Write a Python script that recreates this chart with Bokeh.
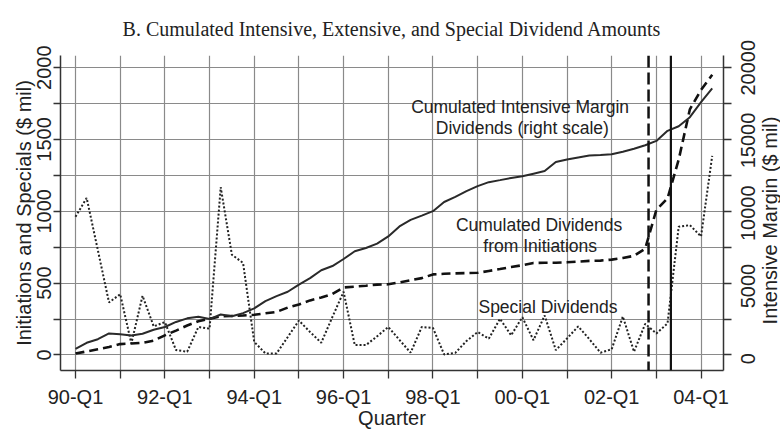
import math
from bokeh.plotting import figure
from bokeh.layouts import row
from bokeh.models import Range1d, LinearAxis, FixedTicker, Span, Label
from bokeh.core.properties import value
from bokeh.embed import file_html
from bokeh.resources import INLINE

# ---------------- data ----------------
quarter_index = list(range(58))  # 0 = 90-Q1 ... 57 = 04-Q2

special_dividends = [962, 1093, 730, 366, 423, 80, 412, 199, 229, 34,
                     23, 195, 183, 1168, 698, 641, 91, 11, 11, 125,
                     240, 160, 85, 265, 440, 69, 69, 130, 195, 105,
                     16, 195, 188, 4, 15, 97, 160, 114, 252, 137,
                     263, 103, 275, 34, 115, 199, 110, 16, 40, 268,
                     23, 217, 150, 220, 893, 904, 825, 1386]

cum_initiations = [10, 25, 40, 55, 76, 80, 85, 100, 137, 170,
                   205, 235, 252, 270, 272, 275, 280, 290, 300, 330,
                   352, 380, 400, 425, 470, 476, 482, 490, 492, 505,
                   520, 535, 561, 565, 568, 570, 572, 585, 598, 612,
                   625, 641, 642, 642, 645, 650, 655, 657, 664, 675,
                   690, 740, 1010, 1090, 1360, 1710, 1845, 1950]

cum_intensive = [420, 850, 1100, 1500, 1450, 1350, 1480, 1760, 1950, 2300,
                 2550, 2660, 2500, 2820, 2700, 2910, 3250, 3750, 4100, 4400,
                 4900, 5350, 5900, 6190, 6680, 7220, 7450, 7750, 8250, 8950,
                 9400, 9700, 10010, 10650, 11000, 11400, 11750, 12030, 12170, 12320,
                 12440, 12620, 12800, 13430, 13600, 13750, 13880, 13920, 13970, 14150,
                 14350, 14600, 14900, 15600, 15920, 16550, 17600, 18560]

x_tick_positions = [0, 8, 16, 24, 32, 40, 48, 56]
x_tick_labels = ["90-Q1", "92-Q1", "94-Q1", "96-Q1", "98-Q1", "00-Q1", "02-Q1", "04-Q1"]
x_minor_positions = [4, 12, 20, 28, 36, 44, 52]

left_ticks = [0, 500, 1000, 1500, 2000]
left_minor = [250, 750, 1250, 1750]
right_ticks = [0, 5000, 10000, 15000, 20000]
right_minor = [2500, 7500, 12500, 17500]

event_dashed = 51.3   # vertical dashed line (quarter index)
event_solid = 53.3    # vertical solid line (quarter index)

annotations = [
    ("Cumulated Intensive Margin", 39.8, 1728),
    ("Dividends (right scale)", 40.0, 1583),
    ("Cumulated Dividends", 41.5, 902),
    ("from Initiations", 41.6, 758),
    ("Special Dividends", 42.3, 332),
]

TITLE = "B. Cumulated Intensive, Extensive, and Special Dividend Amounts"
LEFT_TITLE = "Initiations and Specials ($ mil)"
RIGHT_TITLE = "Intensive Margin ($ mil)"
X_TITLE = "Quarter"
SANS = "Liberation Sans"
TXT = "#222222"
AXC = "#333333"
GRID = "#8a8a8a"


def style_axis(ax, tick_out):
    ax.major_tick_out = tick_out
    ax.major_tick_in = 0
    ax.minor_tick_out = tick_out
    ax.minor_tick_in = 0
    ax.axis_line_width = 1.5
    ax.axis_line_color = AXC
    ax.major_tick_line_color = AXC
    ax.major_tick_line_width = 1.3
    ax.minor_tick_line_color = AXC
    ax.minor_tick_line_width = 1.3


# ---------------- main figure ----------------
p = figure(width=735, height=431,
           x_range=Range1d(-1.343, 58.01), y_range=Range1d(-107.9, 2084.5),
           output_backend="svg", toolbar_location=None,
           min_border_left=60, min_border_right=12,
           min_border_top=55, min_border_bottom=57)
p.extra_y_ranges = {"right": Range1d(-1079, 20845)}
p.outline_line_color = None
p.background_fill_color = "white"
p.border_fill_color = "white"
try:
    p.frame_align = False
except Exception:
    pass

p.title.text = TITLE
p.title.text_font = "Liberation Serif"
p.title.text_font_size = "20px"
p.title.text_font_style = "normal"
p.title.text_color = TXT
p.title.align = "center"
p.title.vertical_align = "top"
p.title.standoff = 28

# x axis
x_ticker = FixedTicker(ticks=x_tick_positions, minor_ticks=x_minor_positions)
xa = p.xaxis[0]
xa.ticker = x_ticker
xa.major_label_overrides = {t: l for t, l in zip(x_tick_positions, x_tick_labels)}
xa.major_label_text_font = SANS
xa.major_label_text_font_size = "20px"
xa.major_label_text_color = TXT
style_axis(xa, 8)
xa.major_label_standoff = 7
xa.axis_label = X_TITLE
xa.axis_label_text_font = SANS
xa.axis_label_text_font_size = "20px"
xa.axis_label_text_font_style = "normal"
xa.axis_label_text_color = TXT
xa.axis_label_standoff = -4

# left axis
l_ticker = FixedTicker(ticks=left_ticks, minor_ticks=left_minor)
ya = p.yaxis[0]
ya.ticker = l_ticker
ya.major_label_orientation = "vertical"
ya.major_label_text_font = SANS
ya.major_label_text_font_size = "20px"
ya.major_label_text_color = TXT
style_axis(ya, 7)
ya.major_label_standoff = 2
ya.axis_label = LEFT_TITLE
ya.axis_label_text_font = SANS
ya.axis_label_text_font_size = "20px"
ya.axis_label_text_font_style = "normal"
ya.axis_label_text_color = TXT
ya.axis_label_standoff = 0

# right axis (line and ticks here; its labels are drawn in the side strip)
ra = LinearAxis(y_range_name="right",
                ticker=FixedTicker(ticks=right_ticks, minor_ticks=right_minor))
ra.major_label_text_font_size = "0px"
ra.major_label_text_color = None
ra.major_label_standoff = 0
style_axis(ra, 8)
p.add_layout(ra, "right")

# grid
p.xgrid.ticker = x_ticker
p.ygrid.ticker = l_ticker
for g in (p.xgrid, p.ygrid):
    g.grid_line_color = GRID
    g.grid_line_width = 1.2
    g.minor_grid_line_color = GRID
    g.minor_grid_line_width = 1.2

# series
p.line(quarter_index, special_dividends, line_color="#222222", line_width=2, line_dash="2 2")
p.line(quarter_index, cum_initiations, line_color="#111111", line_width=2.6, line_dash="9 5")
p.line(quarter_index, cum_intensive, y_range_name="right", line_color="#2a2a2a", line_width=2)

# event lines
p.add_layout(Span(location=event_dashed, dimension="height", line_color="#111111",
                  line_width=2.5, line_dash="12 5"))
p.add_layout(Span(location=event_solid, dimension="height", line_color="#111111",
                  line_width=2.2))

# annotations
for txt, xq, yv in annotations:
    p.add_layout(Label(x=xq, y=yv, text=txt, text_font=SANS, text_font_size="17.5px",
                       text_color=TXT, text_align="center", text_baseline="middle"))

# ---------------- right strip: right-axis tick labels and title ----------------
s = figure(width=45, height=431, x_range=Range1d(0, 45), y_range=Range1d(-4997, 24625),
           output_backend="svg", toolbar_location=None,
           x_axis_type=None, y_axis_type=None,
           min_border_left=0, min_border_right=0, min_border_top=0, min_border_bottom=0)
s.outline_line_color = None
s.grid.visible = False
s.background_fill_color = "white"
s.border_fill_color = "white"
try:
    s.frame_align = False
except Exception:
    pass
s.text(x=[12] * len(right_ticks), y=right_ticks, text=[str(v) for v in right_ticks],
       angle=math.pi / 2, text_font=value(SANS), text_font_size=value("20px"),
       text_color=TXT, text_align="center", text_baseline="middle")
s.text(x=[34.5], y=[9505], text=[RIGHT_TITLE], angle=math.pi / 2,
       text_font=value(SANS), text_font_size=value("20px"),
       text_color=TXT, text_align="center", text_baseline="middle")

layout = row(p, s, spacing=0)
open("out.html", "w").write(file_html(layout, INLINE))
